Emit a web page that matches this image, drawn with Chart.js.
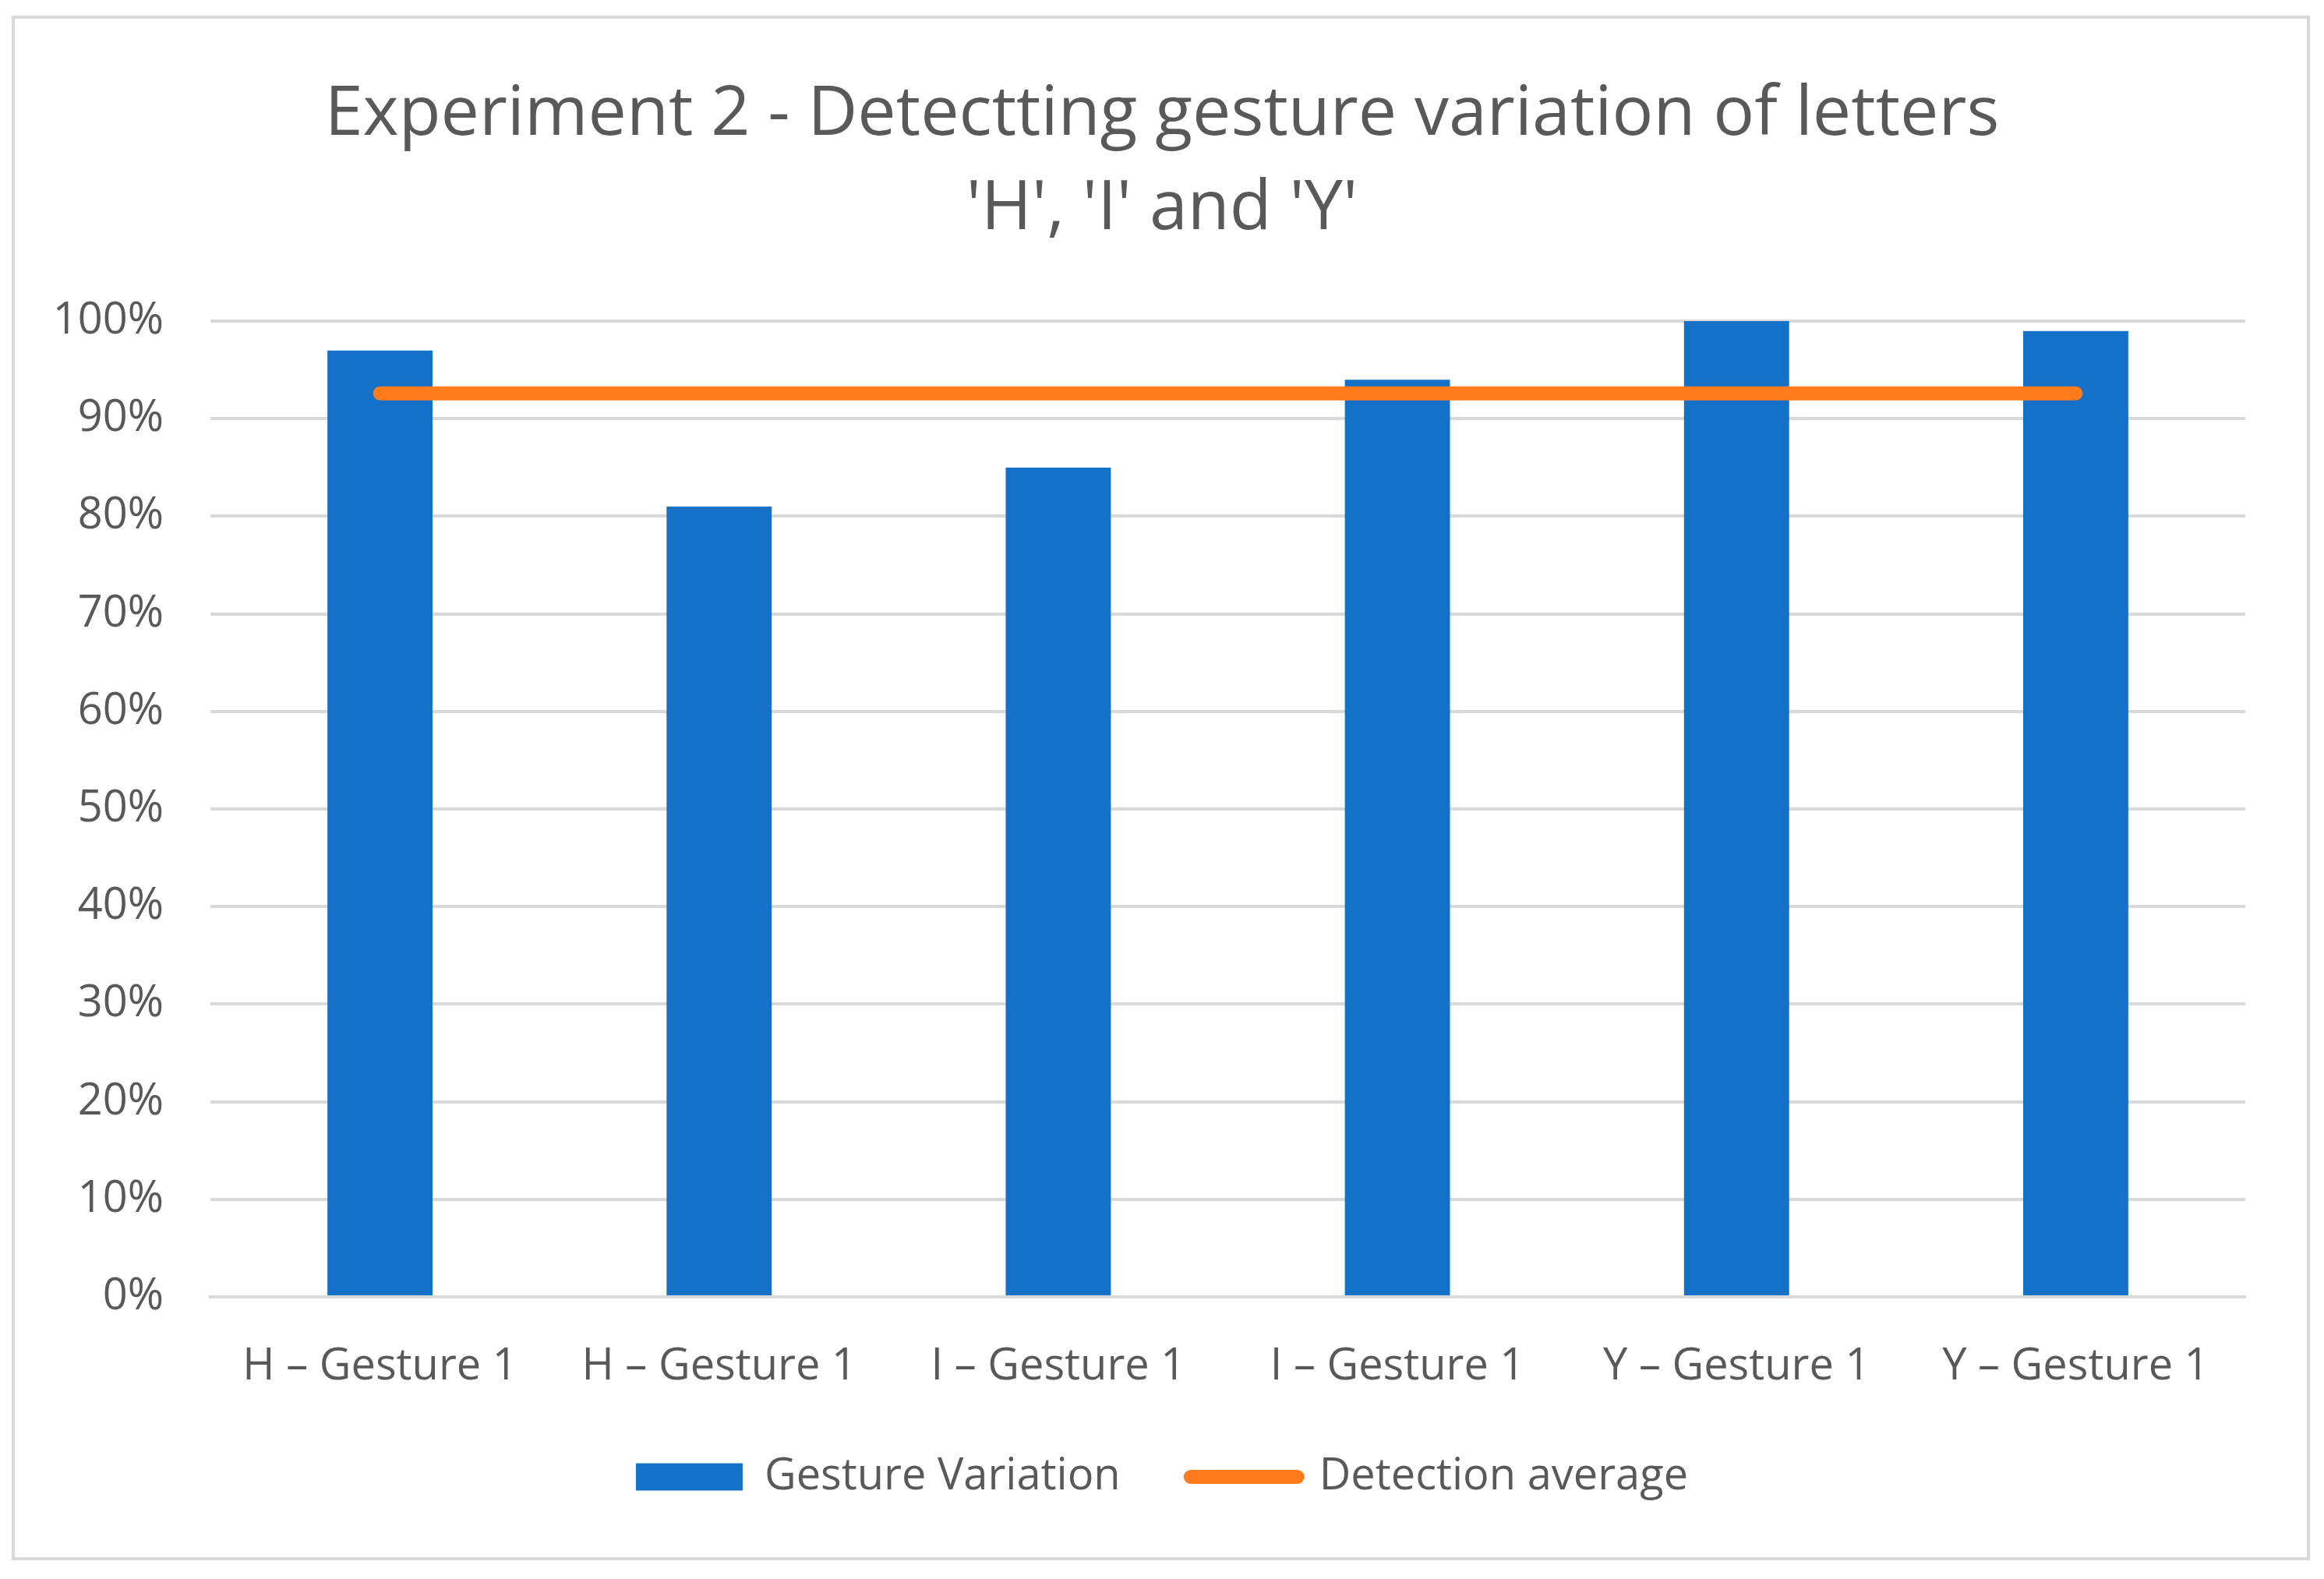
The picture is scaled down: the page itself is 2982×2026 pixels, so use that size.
<!DOCTYPE html>
<html>
<head>
<meta charset="utf-8">
<script src="https://cdn.jsdelivr.net/npm/chart.js@4.4.1/dist/chart.umd.min.js"></script>
<style>
  html, body { margin: 0; padding: 0; background: #ffffff; }
  #wrap { position: relative; width: 2982px; height: 2026px; }
  #frame {
    position: absolute; left: 15px; top: 20px; width: 2949px; height: 1982px;
    border: 4px solid #d9d9d9; box-sizing: border-box; pointer-events: none;
  }
</style>
</head>
<body>
<div id="wrap">
  <canvas id="myChart" width="2982" height="2026"></canvas>
  <div id="frame"></div>
</div>
<script>
// chart data
const categories = ["H – Gesture 1", "H – Gesture 1", "I – Gesture 1", "I – Gesture 1", "Y – Gesture 1", "Y – Gesture 1"];
const gestureVariation = [97, 81, 85, 94, 100, 99];
const detectionAverage = [92.6, 92.6, 92.6, 92.6, 92.6, 92.6];
const yTicks = [0, 10, 20, 30, 40, 50, 60, 70, 80, 90, 100];

const textColor = "#595959";
const gridColor = "#d9d9d9";
const blue = "#1571c8";
const orange = "#ff7b1c";
const fontFamily = "'Open Sans', 'Noto Sans', sans-serif";

const canvas = document.getElementById("myChart");
const context = canvas.getContext("2d");

new Chart(context, {
    data: {
        labels: categories,
        datasets: [
            {
                type: "line",
                label: "Detection average",
                data: detectionAverage,
                borderColor: orange,
                backgroundColor: orange,
                borderWidth: 18,
                borderCapStyle: "round",
                pointRadius: 0,
                pointHoverRadius: 0,
                order: 0,
            },
            {
                type: "bar",
                label: "Gesture Variation",
                data: gestureVariation,
                backgroundColor: blue,
                borderWidth: 0,
                barPercentage: 0.31,
                categoryPercentage: 1.0,
                order: 1,
            },
        ],
    },
    options: {
        responsive: false,
        animation: false,
        devicePixelRatio: 1,
        // symmetric side padding keeps title and legend centred on the frame
        layout: { padding: { left: 9, right: 9, top: 0, bottom: 93 } },
        plugins: {
            title: {
                display: true,
                text: ["Experiment 2 - Detectting gesture variation of letters", "'H', 'I' and 'Y'"],
                color: textColor,
                font: { family: fontFamily, size: 88, weight: "normal", lineHeight: 1.37 },
                padding: { top: 88, bottom: 83 },
            },
            legend: {
                display: true,
                position: "bottom",
                reverse: true,
                labels: {
                    color: textColor,
                    font: { family: fontFamily, size: 56 },
                    usePointStyle: true,
                    pointStyleWidth: 137,
                    boxHeight: 35,
                    padding: 90,
                    generateLabels: function (chart) {
                        const items = Chart.defaults.plugins.legend.labels.generateLabels(chart);
                        items.forEach(function (item) {
                            if (item.datasetIndex === 0) {
                                item.pointStyle = "line";
                                item.lineCap = "round";
                                item.lineWidth = 18;
                                item.strokeStyle = orange;
                            } else {
                                item.pointStyle = "rect";
                                item.lineWidth = 0;
                                item.fillStyle = blue;
                            }
                        });
                        return items;
                    },
                },
            },
            tooltip: { enabled: false },
        },
        scales: {
            x: {
                grid: { display: false, drawTicks: false },
                border: { display: true, color: gridColor, width: 4 },
                ticks: {
                    color: textColor,
                    font: { family: fontFamily, size: 56 },
                    padding: 56,
                    maxRotation: 0,
                    autoSkip: false,
                },
                // keep the band under the axis tight so the legend sits where it should
                afterFit: function (scale) {
                    scale.height = 113;
                },
            },
            y: {
                min: yTicks[0],
                max: yTicks[yTicks.length - 1],
                afterBuildTicks: function (axis) {
                    axis.ticks = yTicks.map(function (v) { return { value: v }; });
                },
                grid: { color: gridColor, lineWidth: 4, drawTicks: false },
                border: { display: false },
                ticks: {
                    color: textColor,
                    font: { family: fontFamily, size: 56 },
                    padding: 60,
                    callback: function (value) { return value + "%"; },
                },
                afterFit: function (scale) {
                    scale.width = 261;
                },
            },
            // empty right-hand axis, only reserves the white margin on the right
            yRight: {
                position: "right",
                display: true,
                grid: { display: false, drawTicks: false },
                border: { display: false },
                ticks: { display: false },
                afterFit: function (scale) {
                    scale.width = 92;
                },
            },
        },
    },
});
</script>
</body>
</html>
